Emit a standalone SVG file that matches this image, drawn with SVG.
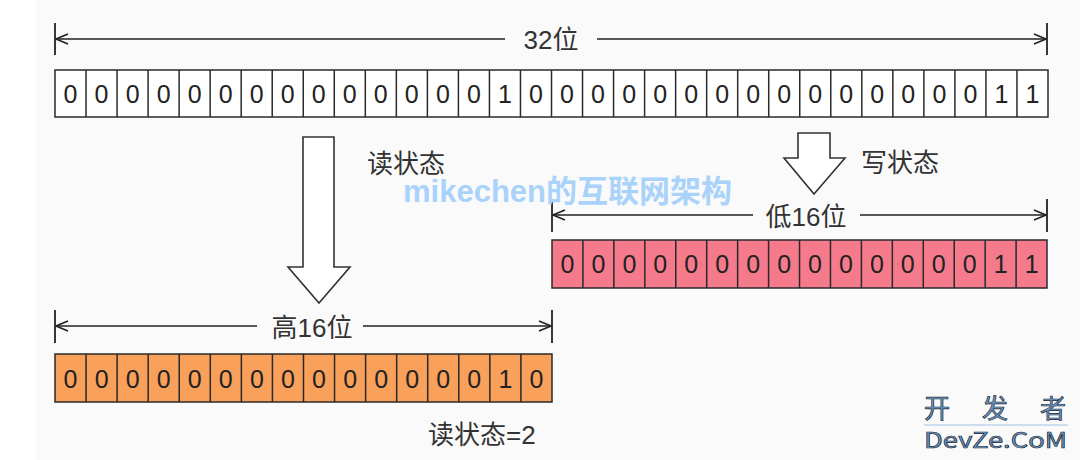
<svg xmlns="http://www.w3.org/2000/svg" width="1080" height="460" viewBox="0 0 1080 460">
<defs>
<marker id="chev" viewBox="0 0 14 12" markerWidth="14" markerHeight="12" refX="13" refY="6" orient="auto-start-reverse" markerUnits="userSpaceOnUse">
<path d="M1,1 L13,6 L1,11" fill="none" stroke="#222" stroke-width="1.6"/>
</marker>
</defs>
<style>
.dim{stroke:#222;stroke-width:1.5;fill:none}
.tick{stroke:#222;stroke-width:1.8}
.cell{stroke:#2a2a2a;stroke-width:1.5}
.div{stroke:#2a2a2a;stroke-width:1.5;fill:none}
.dig{font-family:"Liberation Sans",Arial,sans-serif;font-size:25px;fill:#222;text-anchor:middle}
.lbl{font-family:"Liberation Sans","Noto Sans CJK SC",sans-serif;font-size:26px;fill:#333;text-anchor:middle}
.lbls{font-family:"Liberation Sans","Noto Sans CJK SC",sans-serif;font-size:26px;fill:#333}
.big{fill:#fff;stroke:#333;stroke-width:1.6;stroke-linejoin:miter}
.wm{font-family:"Liberation Sans","Noto Sans CJK SC",sans-serif;font-size:31px;font-weight:bold;fill:#a9d3fb}
.logo{font-family:"Noto Sans CJK SC","Liberation Sans",sans-serif;fill:#6f9ccb;stroke:#1b2733;stroke-width:0.7}
</style>
<rect x="0" y="0" width="1080" height="460" fill="#ffffff"/>
<rect x="36" y="0" width="1044" height="460" fill="#fafafa"/>

<g id="connectors">
<line class="tick" x1="55" y1="23" x2="55" y2="55"/>
<line class="tick" x1="1047" y1="23" x2="1047" y2="55"/>
<line class="dim" x1="56" y1="39" x2="505" y2="39" marker-start="url(#chev)"/>
<line class="dim" x1="597" y1="39" x2="1046" y2="39" marker-end="url(#chev)"/>

<line class="tick" x1="552" y1="199" x2="552" y2="232"/>
<line class="tick" x1="1047" y1="199" x2="1047" y2="232"/>
<line class="dim" x1="553" y1="215" x2="753" y2="215" marker-start="url(#chev)"/>
<line class="dim" x1="860" y1="215" x2="1046" y2="215" marker-end="url(#chev)"/>

<line class="tick" x1="55" y1="310" x2="55" y2="343"/>
<line class="tick" x1="552" y1="310" x2="552" y2="343"/>
<line class="dim" x1="56" y1="326" x2="257" y2="326" marker-start="url(#chev)"/>
<line class="dim" x1="363" y1="326" x2="551" y2="326" marker-end="url(#chev)"/>
</g>

<g id="label-32">
<text class="lbl" x="551" y="49">32位</text>
</g>

<g id="row32">
<rect class="cell" x="55" y="70" width="993" height="47" fill="#ffffff"/>
<path class="div" d="M86.03,70V117M117.06,70V117M148.09,70V117M179.13,70V117M210.16,70V117M241.19,70V117M272.22,70V117M303.25,70V117M334.28,70V117M365.31,70V117M396.34,70V117M427.38,70V117M458.41,70V117M489.44,70V117M520.47,70V117M551.5,70V117M582.53,70V117M613.56,70V117M644.59,70V117M675.63,70V117M706.66,70V117M737.69,70V117M768.72,70V117M799.75,70V117M830.78,70V117M861.81,70V117M892.84,70V117M923.88,70V117M954.91,70V117M985.94,70V117M1016.97,70V117"/>
<text class="dig" y="103" x="70.5 101.5 132.6 163.6 194.6 225.7 256.7 287.7 318.8 349.8 380.8 411.8 442.9 473.9 504.9 536 567 598 629.1 660.1 691.1 722.2 753.2 784.2 815.3 846.3 877.3 908.3 939.4 970.4 1001.4 1032.5">00000000000000100000000000000011</text>
</g>

<g id="read-arrow">
<polygon class="big" points="303,137 334,137 334,267 350,267 319,303 288,267 303,267"/>
<text class="lbls" x="367" y="173">读状态</text>
</g>

<g id="write-arrow">
<polygon class="big" points="798,133 830,133 830,158 845,158 814,194 784,158 798,158"/>
<text class="lbls" x="861" y="172">写状态</text>
</g>

<g id="label-low16">
<text class="lbl" x="806" y="226">低16位</text>
</g>

<g id="row-low16">
<rect class="cell" x="552" y="240" width="495" height="48" fill="#f57a8b"/>
<path class="div" d="M582.94,240V288M613.88,240V288M644.82,240V288M675.76,240V288M706.7,240V288M737.64,240V288M768.58,240V288M799.52,240V288M830.46,240V288M861.4,240V288M892.34,240V288M923.28,240V288M954.22,240V288M985.16,240V288M1016.1,240V288"/>
<text class="dig" y="273" x="567.5 598.4 629.4 660.3 691.2 722.2 753.1 784.1 815 845.9 876.9 907.8 938.8 969.7 1000.6 1031.6">0000000000000011</text>
</g>

<g id="label-high16">
<text class="lbl" x="312" y="337">高16位</text>
</g>

<g id="row-high16">
<rect class="cell" x="55" y="354" width="497" height="48" fill="#f9a05b"/>
<path class="div" d="M86.06,354V402M117.12,354V402M148.18,354V402M179.24,354V402M210.3,354V402M241.36,354V402M272.42,354V402M303.48,354V402M334.54,354V402M365.6,354V402M396.66,354V402M427.72,354V402M458.78,354V402M489.84,354V402M520.9,354V402"/>
<text class="dig" y="388" x="70.5 101.6 132.7 163.7 194.8 225.8 256.9 288 319 350.1 381.1 412.2 443.3 474.3 505.4 536.4">0000000000000010</text>
</g>

<g id="read-state">
<text class="lbls" x="428" y="444">读状态=2</text>
</g>

<g id="watermark">
<text class="wm" x="403" y="202" textLength="329" lengthAdjust="spacingAndGlyphs">mikechen的互联网架构</text>
</g>

<g id="logo">
<text class="logo" x="924" y="418" font-size="26" textLength="142" lengthAdjust="spacing">开发者</text>
<line x1="924" y1="425" x2="1068" y2="425" stroke="#9fc1e3" stroke-width="1"/>
<text class="logo" x="924" y="448" font-size="22" textLength="143" lengthAdjust="spacingAndGlyphs" font-family="Liberation Sans, sans-serif">DevZe.CoM</text>
</g>
</svg>
